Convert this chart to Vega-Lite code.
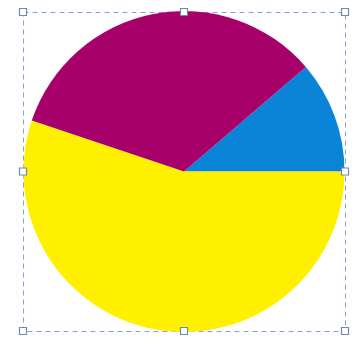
{
  "$schema": "https://vega.github.io/schema/vega-lite/v6.json",
  "width": 322,
  "height": 319,
  "autosize": {"type": "none"},
  "padding": {"left": 23, "top": 12, "right": 7, "bottom": 14},
  "background": "white",
  "config": {"view": {"stroke": "#7fa3d3", "strokeDash": [5, 4], "strokeWidth": 1}},
  "datasets": {
    "slices": [
      {"category": "A", "value": 40.6, "order": 1},
      {"category": "B", "value": 198.5, "order": 2},
      {"category": "C", "value": 120.9, "order": 3}
    ],
    "handles": [
      {"hx": 0, "hy": 0}, {"hx": 1, "hy": 0}, {"hx": 2, "hy": 0},
      {"hx": 0, "hy": 1}, {"hx": 2, "hy": 1},
      {"hx": 0, "hy": 2}, {"hx": 1, "hy": 2}, {"hx": 2, "hy": 2}
    ]
  },
  "layer": [
    {
      "data": {"name": "slices"},
      "mark": {"type": "arc", "outerRadius": 160.5},
      "encoding": {
        "theta": {"field": "value", "type": "quantitative", "stack": true, "scale": {"range": [0.862, 7.145]}},
        "order": {"field": "order", "type": "quantitative"},
        "color": {
          "field": "category", "type": "nominal", "legend": null,
          "scale": {"domain": ["A", "B", "C"], "range": ["#0a84d6", "#fff000", "#a8006a"]}
        }
      }
    },
    {
      "data": {"name": "handles"},
      "mark": {"type": "point", "shape": "square", "size": 49, "filled": true, "fill": "white", "stroke": "#7089b0", "strokeWidth": 1.2, "opacity": 1},
      "encoding": {
        "x": {"field": "hx", "type": "quantitative", "axis": null, "scale": {"domain": [0, 2], "nice": false, "zero": false}},
        "y": {"field": "hy", "type": "quantitative", "axis": null, "scale": {"domain": [0, 2], "nice": false, "zero": false}}
      }
    }
  ]
}
